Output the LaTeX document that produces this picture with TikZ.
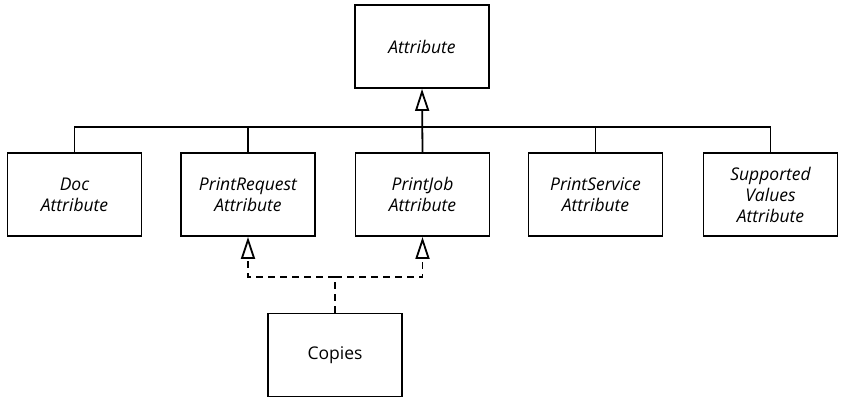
\documentclass[tikz,border=0pt]{standalone}
\usepackage{fontspec}
\setmainfont{Open Sans}
\usetikzlibrary{arrows.meta}

\begin{document}
\begin{tikzpicture}[x=1pt, y=-1pt, line width=1.8pt,
    cls/.style = {draw, fill=white, minimum width=134pt, minimum height=83pt,
      align=center, font=\fontsize{17.5}{21}\selectfont\itshape},
    gen/.style = {-{Triangle[open, length=22pt, width=14pt]}},
    real/.style = {gen, dash pattern=on 7pt off 5pt}]
      \useasboundingbox (0, 0) rectangle (841, 399);
      % interface at the top
      \node [cls] (attr) at (422, 46.5) {Attribute};
      % the five sub-interfaces
      \node [cls] (doc) at (74.5, 194.5) {Doc\\Attribute};
      \node [cls] (req) at (248, 194.5) {PrintRequest\\Attribute};
      \node [cls] (job) at (422.5, 194.5) {PrintJob\\Attribute};
      \node [cls] (serv) at (595.5, 194.5) {PrintService\\Attribute};
      \node [cls] (supp) at (770.5, 194.5) {Supported\\Values\\Attribute};
      % the class
      \node [cls, font=\fontsize{17.5}{21}\selectfont] (copies) at (335, 355) {Copies};
      \coordinate (bus) at (0, 127);
      \coordinate (fork) at (0, 277);
      % generalisation tree
      \draw (doc.north) |- (bus -| supp) -- (supp.north);
      \draw (req.north) -- (req |- bus);
      \draw (serv.north) -- (serv |- bus);
      \draw [gen] (job.north) -- (attr.south);
      % realisation, dashed
      \draw [real] (copies.north) -- (copies |- fork) -| (req.south);
      \draw [real] (copies |- fork) -| (job.south);
    \end{tikzpicture}
\end{document}
